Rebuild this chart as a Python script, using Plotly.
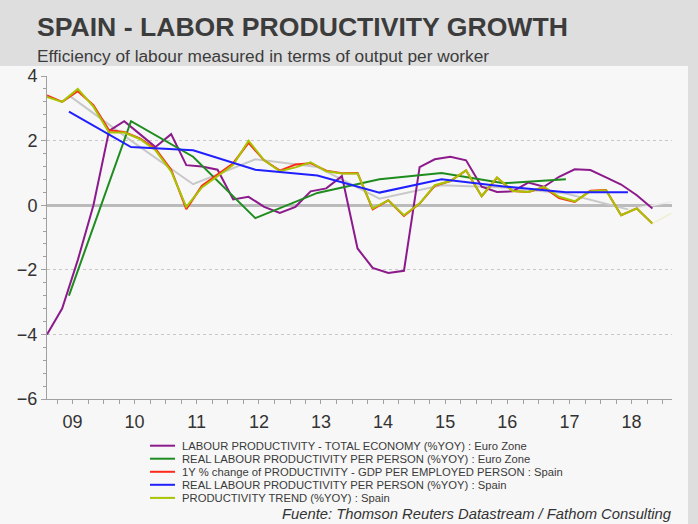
import plotly.graph_objects as go
import pandas as pd

# ---------------- data ----------------
quarter_dates = pd.date_range("2009-02-01", periods=40, freq="3MS")
annual_years = list(range(2009, 2019))
annual_dates = [f"{y}-06-10" for y in annual_years]
ext_date = "2019-02-20"

labour_prod_ez = [-4.0, -3.2, -1.7, 0.0, 2.3, 2.6, 2.2, 1.8, 2.2, 1.24,
                  1.2, 1.1, 0.18, 0.26, -0.05, -0.24, -0.05, 0.43, 0.52, 0.9,
                  -1.34, -1.94, -2.1, -2.03, 1.18, 1.42, 1.5, 1.39, 0.57, 0.41,
                  0.43, 0.70, 0.57, 0.88, 1.11, 1.09, 0.86, 0.64, 0.31, -0.1]

real_prod_ez = [-2.8, 2.6, 1.5, -0.4, 0.38, 0.8, 1.0, 0.68, 0.8]  # 2009-2017

gdp_per_employed_es = [3.4, 3.2, 3.53, 3.1, 2.32, 2.27, 2.07, 1.75, 1.1, -0.12,
                       0.6, 0.95, 1.3, 1.93, 1.39, 1.07, 1.26, 1.3, 1.07, 0.99,
                       1.0, -0.13, 0.15, -0.33, 0.05, 0.6, 0.75, 1.08, 0.28, 0.85,
                       0.44, 0.41, 0.55, 0.22, 0.1, 0.45, 0.47, -0.31, -0.1, -0.57]

real_prod_es = [2.9, 1.8, 1.7, 1.1, 0.92, 0.39, 0.8, 0.58, 0.4, 0.4]  # 2009-2018

prod_trend_es = [3.35, 3.2, 3.6, 3.05, 2.25, 2.25, 2.05, 1.7, 1.05, -0.05,
                 0.55, 0.9, 1.25, 2.0, 1.39, 1.05, 1.17, 1.33, 1.05, 0.98,
                 0.98, -0.1, 0.15, -0.31, 0.05, 0.62, 0.75, 1.08, 0.28, 0.86,
                 0.44, 0.41, 0.57, 0.26, 0.12, 0.43, 0.46, -0.31, -0.1, -0.57]
prod_trend_ext = [-0.57, -0.25]

smooth_trend = [3.4, 2.0, 0.65, 1.42, 1.18, 0.2, 0.62, 0.55, 0.36, -0.13]
smooth_trend_ext = [-0.13, 0.1]

series_names = [
    "LABOUR PRODUCTIVITY - TOTAL ECONOMY (%YOY) : Euro Zone",
    "REAL LABOUR PRODUCTIVITY PER PERSON (%YOY) : Euro Zone",
    "1Y % change of PRODUCTIVITY - GDP PER EMPLOYED PERSON : Spain",
    "REAL LABOUR PRODUCTIVITY PER PERSON (%YOY) : Spain",
    "PRODUCTIVITY TREND (%YOY) : Spain",
]
series_colors = ["#8c1a8c", "#1f8c1f", "#ff2a1a", "#2020ff", "#a8c400"]

year_ticks = [f"{y}-07-01" for y in range(2009, 2019)]
year_labels = ["09", "10", "11", "12", "13", "14", "15", "16", "17", "18"]

# ---------------- geometry helpers ----------------
W, H = 698, 524
L, R, T, B = 47, 26, 76, 125
PW, PH = W - L - R, H - T - B


def px(x):
    return (x - L) / PW


def py(y):
    return (H - B - y) / PH


fig = go.Figure()

# background panel
fig.add_shape(type="rect", xref="paper", yref="paper", layer="below",
              x0=px(0), x1=px(688), y0=py(524), y1=py(66),
              fillcolor="#f7f7f7", line=dict(width=0))

fig.add_trace(go.Scatter(x=annual_dates, y=smooth_trend, mode="lines",
                         line=dict(color="#c8c8c8", width=2), showlegend=False))
fig.add_trace(go.Scatter(x=[annual_dates[-1], ext_date], y=smooth_trend_ext, mode="lines",
                         line=dict(color="#ebebeb", width=1.5), showlegend=False))
fig.add_trace(go.Scatter(x=quarter_dates, y=labour_prod_ez, mode="lines", name=series_names[0],
                         line=dict(color=series_colors[0], width=2), showlegend=False))
fig.add_trace(go.Scatter(x=annual_dates[:len(real_prod_ez)], y=real_prod_ez, mode="lines",
                         name=series_names[1],
                         line=dict(color=series_colors[1], width=2), showlegend=False))
fig.add_trace(go.Scatter(x=quarter_dates, y=gdp_per_employed_es, mode="lines", name=series_names[2],
                         line=dict(color=series_colors[2], width=2), showlegend=False))
fig.add_trace(go.Scatter(x=quarter_dates, y=prod_trend_es, mode="lines", name=series_names[4],
                         line=dict(color=series_colors[4], width=2), showlegend=False))
fig.add_trace(go.Scatter(x=[quarter_dates[-1], ext_date], y=prod_trend_ext, mode="lines",
                         line=dict(color="#efefd2", width=1.5), showlegend=False))
fig.add_trace(go.Scatter(x=annual_dates, y=real_prod_es, mode="lines", name=series_names[3],
                         line=dict(color=series_colors[3], width=2), showlegend=False))

# legend (drawn manually for compact row spacing)
leg_rows = [445.7, 458.7, 471.8, 484.8, 497.9]
for name, color, ry in zip(series_names, series_colors, leg_rows):
    fig.add_shape(type="line", xref="paper", yref="paper",
                  x0=px(150), x1=px(175), y0=py(ry), y1=py(ry),
                  line=dict(color=color, width=2))
    fig.add_annotation(xref="paper", yref="paper", x=px(180), y=py(ry),
                       xanchor="left", yanchor="middle", showarrow=False,
                       text=name, font=dict(size=11.25, color="#3a3a3a"))

# titles
fig.add_annotation(xref="paper", yref="paper", x=px(35), y=py(10),
                   xanchor="left", yanchor="top", showarrow=False,
                   text="<b>SPAIN - LABOR PRODUCTIVITY GROWTH</b>",
                   font=dict(size=26.6, color="#3c3c3c", family="Liberation Sans, Arial, sans-serif"))
fig.add_annotation(xref="paper", yref="paper", x=px(35), y=py(44),
                   xanchor="left", yanchor="top", showarrow=False,
                   text="Efficiency of labour measured in terms of output per worker",
                   font=dict(size=17.3, color="#3c3c3c"))
fig.add_annotation(xref="paper", yref="paper", x=px(674), y=py(514),
                   xanchor="right", yanchor="middle", showarrow=False,
                   text="<i>Fuente: Thomson Reuters Datastream / Fathom Consulting</i>",
                   font=dict(size=14.8, color="#333333"))

fig.update_layout(
    width=W, height=H,
    margin=dict(l=L, r=R, t=T, b=B, pad=0),
    paper_bgcolor="#dedede",
    plot_bgcolor="#f7f7f7",
    font=dict(family="Liberation Sans, Arial, sans-serif", color="#333333"),
    showlegend=False,
)
fig.update_xaxes(
    type="date",
    range=["2009-02-01", "2019-02-24"],
    tickvals=year_ticks, ticktext=year_labels,
    ticks="", showgrid=False, zeroline=False,
    showline=True, linecolor="#a0a0a0", linewidth=1,
    tickfont=dict(size=18, color="#333333"),
    ticklabelstandoff=6,
    minor=dict(ticks="outside", tick0="2009-01-01", dtick="M3", ticklen=4,
               tickcolor="#a0a0a0", showgrid=False),
)
fig.update_yaxes(
    range=[-6, 4], dtick=2, tick0=0,
    ticks="outside", ticklen=5, tickcolor="#a0a0a0",
    showline=True, linecolor="#a0a0a0", linewidth=1,
    showgrid=True, gridcolor="#c8c8c8", griddash="dot", gridwidth=1,
    zeroline=True, zerolinecolor="#bbbbbb", zerolinewidth=2.5,
    tickfont=dict(size=18, color="#333333"),
    minor=dict(ticks="outside", dtick=0.4, tick0=0, ticklen=3,
               tickcolor="#a0a0a0", showgrid=False),
)

fig.write_html("out.html", config={"displayModeBar": False},
               post_script="document.body.style.margin='0';document.body.style.padding='0';")
